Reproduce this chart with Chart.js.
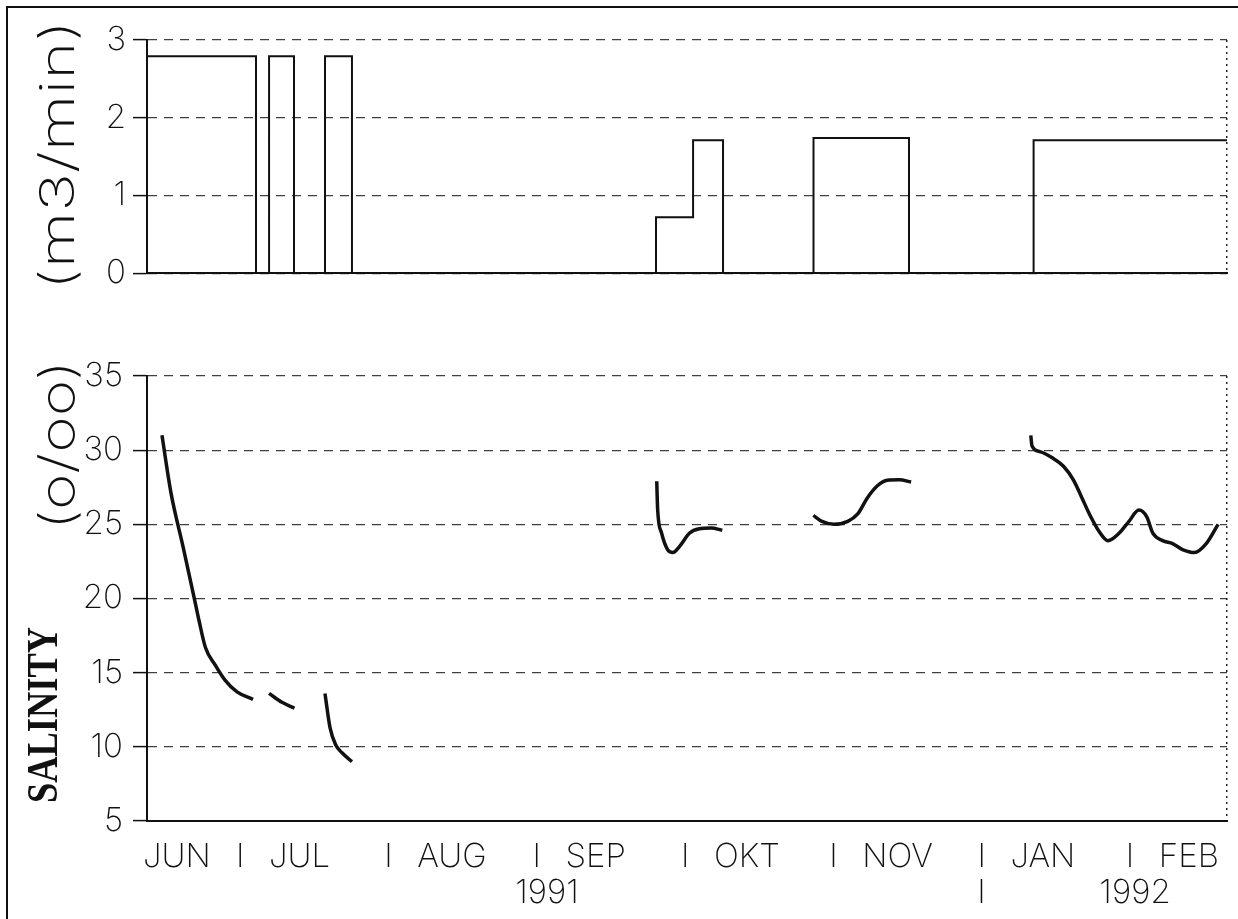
<!DOCTYPE html>
<html>
<head>
<meta charset="utf-8">
<script src="https://cdn.jsdelivr.net/npm/chart.js@4.4.1/dist/chart.umd.min.js"></script>
<style>
  html, body { margin: 0; padding: 0; background: #fff; }
  #page { position: relative; width: 1238px; height: 919px; overflow: hidden; }
  #frame { position: absolute; left: 6px; top: 6px; width: 1240px; height: 920px;
           border-left: 2px solid #111; border-top: 2px solid #111; }
  #topBox { position: absolute; left: 0; top: 0; width: 1238px; height: 300px; }
  #botBox { position: absolute; left: 0; top: 300px; width: 1238px; height: 619px; }
</style>
</head>
<body>
<div id="page">
  <div id="frame"></div>
  <div id="topBox"><canvas id="flowChart"></canvas></div>
  <div id="botBox"><canvas id="salChart"></canvas></div>
</div>
<script>
// x axis unit: months, JUL = 1 ... FEB = 7 (no DEC on the original axis)
const xMin = 0.373;
const xMax = 7.655;

const monthTicks = [0.373, 1, 2, 3, 4, 5, 6, 7];
const monthLabels = ['JUN', 'I  \u2009JUL', 'I  \u2009AUG', 'I  \u2009SEP', 'I  \u2009OKT', 'I  \u2009NOV', 'I  \u2009JAN', 'I  \u2009FEB'];
const yearTicks = [3.07, 6.0, 7.035];
const yearLabels = ['1991', 'I', '1992'];

// pumping rate (m3/min), step outline
const flowMonths = [0.373, 1.108, 1.196, 1.364, 1.573, 1.755, 3.805, 4.055, 4.257, 4.867, 5.511, 6.351, 7.655];
const flowValues = [2.79, 0, 2.79, 0, 2.79, 0, 0.72, 1.71, 0, 1.74, 0, 1.71, 1.71];

// salinity (o/oo), null separates the pieces of the record
const salMonths = [
  0.474, 0.535, 0.616, 0.690, 0.724, 0.767, 0.834, 0.899, 0.980, 1.088, 1.10,
  1.196, 1.283, 1.367, 1.40,
  1.573, 1.607, 1.647, 1.688, 1.755, 1.80,
  3.810, 3.816, 3.843, 3.883, 3.918, 3.963, 4.030, 4.097, 4.177, 4.252, 4.30,
  4.866, 4.924, 5.005, 5.098, 5.165, 5.231, 5.298, 5.365, 5.445, 5.525, 5.60,
  6.332, 6.340, 6.393, 6.474, 6.554, 6.620, 6.674, 6.727, 6.794, 6.852, 6.927,
  6.994, 7.061, 7.114, 7.155, 7.221, 7.288, 7.355, 7.435, 7.515, 7.595
];
const salValues = [
  31.0, 27.1, 23.5, 20.1, 18.5, 16.7, 15.5, 14.5, 13.7, 13.2, null,
  13.6, 13.0, 12.6, null,
  13.6, 11.3, 10.1, 9.6, 9.0, null,
  27.9, 26.0, 24.4, 23.3, 23.1, 23.5, 24.4, 24.7, 24.75, 24.6, null,
  25.6, 25.2, 25.0, 25.2, 25.7, 26.8, 27.6, 27.97, 28.0, 27.85, null,
  31.0, 30.3, 29.9, 29.5, 28.9, 27.98, 26.85, 25.7, 24.5, 23.9, 24.4,
  25.2, 25.96, 25.5, 24.4, 23.9, 23.7, 23.3, 23.1, 23.7, 25.0
];

const flowTicks = [0, 1, 2, 3];
const salTicks = [5, 10, 15, 20, 25, 30, 35];

const tickFont = { family: 'Inter, "DejaVu Sans", sans-serif', size: 33, weight: 200 };
const ink = '#111';
const gridCol = 'rgba(0,0,0,0.75)';
const areaLeft = 147;

function toPoints(xs, ys) {
  return xs.map((x, i) => ({ x: x, y: ys[i] }));
}

function stretchedTitle(ctx, text, cx, cy, font, len) {
  ctx.save();
  ctx.translate(cx, cy);
  ctx.rotate(-Math.PI / 2);
  ctx.font = font;
  const w = ctx.measureText(text).width;
  ctx.scale(len / w, 1);
  ctx.fillStyle = ink;
  ctx.textAlign = 'center';
  ctx.textBaseline = 'middle';
  ctx.fillText(text, 0, 0);
  ctx.restore();
}

function yAxis(min, max, ticksList, pad) {
  return {
    type: 'linear',
    position: 'left',
    min: min,
    max: max,
    afterBuildTicks: (scale) => { scale.ticks = ticksList.map(v => ({ value: v })); },
    afterFit: (scale) => { scale.width = areaLeft; },
    ticks: { color: ink, font: tickFont, padding: pad },
    grid: {
      color: gridCol, lineWidth: 1.2,
      drawTicks: true, tickLength: 14, tickColor: ink, tickWidth: 1.5, tickBorderDash: []
    },
    // in Chart.js v4 border.dash dashes the grid lines, the axis line stays solid
    border: { display: true, color: ink, width: 2, dash: [9, 7] }
  };
}

// dotted line at the right end of the plot, drawn as the grid line of xMax
function rightEdge() {
  return {
    type: 'linear',
    position: 'top',
    min: xMin,
    max: xMax,
    afterBuildTicks: (scale) => { scale.ticks = [{ value: xMax }]; },
    afterFit: (scale) => { scale.height = 0; scale.paddingLeft = 0; scale.paddingRight = 0; },
    ticks: { display: false },
    grid: { display: true, drawTicks: false, color: 'rgba(0,0,0,0.85)', lineWidth: 1.5 },
    border: { display: false, dash: [2, 4] }
  };
}

// ---------- top panel: pumping rate ----------
new Chart(document.getElementById('flowChart'), {
  type: 'line',
  data: {
    datasets: [{
      data: toPoints(flowMonths, flowValues),
      stepped: true,
      borderColor: ink,
      borderWidth: 2,
      pointRadius: 0,
      fill: false
    }]
  },
  options: {
    responsive: true,
    maintainAspectRatio: false,
    animation: false,
    layout: { padding: { top: 40, right: 11, bottom: 0, left: 0 } },
    plugins: { legend: { display: false }, tooltip: { enabled: false } },
    scales: {
      x: {
        type: 'linear', min: xMin, max: xMax,
        afterFit: (scale) => { scale.height = 20; },
        ticks: { display: false },
        grid: { display: false },
        border: { display: true, color: ink, width: 2 }
      },
      xr: rightEdge(),
      y: yAxis(0, 3, flowTicks, 7)
    }
  },
  plugins: [{
    id: 'flowTitle',
    afterDraw(chart) {
      stretchedTitle(chart.ctx, '(m3/min)', 60, 155, '200 48px Inter, "DejaVu Sans", sans-serif', 270);
    }
  }]
});

// ---------- bottom panel: salinity ----------
new Chart(document.getElementById('salChart'), {
  type: 'line',
  data: {
    datasets: [{
      data: toPoints(salMonths, salValues),
      borderColor: ink,
      borderWidth: 3.5,
      pointRadius: 0,
      cubicInterpolationMode: 'monotone',
      spanGaps: false,
      fill: false
    }]
  },
  options: {
    responsive: true,
    maintainAspectRatio: false,
    animation: false,
    layout: { padding: { top: 76, right: 11, bottom: 6, left: 0 } },
    plugins: { legend: { display: false }, tooltip: { enabled: false } },
    scales: {
      x: {
        type: 'linear', min: xMin, max: xMax, weight: 0,
        afterBuildTicks: (scale) => { scale.ticks = monthTicks.map(v => ({ value: v })); },
        afterFit: (scale) => { scale.height = 52; scale.paddingLeft = 0; scale.paddingRight = 0; },
        ticks: {
          color: ink, font: tickFont, padding: 16, align: 'start', labelOffset: -4,
          maxRotation: 0, minRotation: 0, autoSkip: false,
          callback: (v, i) => monthLabels[i]
        },
        grid: { display: false, drawTicks: false },
        border: { display: true, color: ink, width: 2 }
      },
      x2: {
        type: 'linear', position: 'bottom', min: xMin, max: xMax, weight: 1,
        afterBuildTicks: (scale) => { scale.ticks = yearTicks.map(v => ({ value: v })); },
        afterFit: (scale) => { scale.height = 40; scale.paddingLeft = 0; scale.paddingRight = 0; },
        ticks: {
          color: ink, font: tickFont, padding: 0,
          maxRotation: 0, minRotation: 0, autoSkip: false,
          callback: (v, i) => yearLabels[i]
        },
        grid: { display: false, drawTicks: false },
        border: { display: false }
      },
      xr: rightEdge(),
      y: yAxis(5, 35, salTicks, 10)
    }
  },
  plugins: [{
    id: 'salTitle',
    afterDraw(chart) {
      const ctx = chart.ctx;
      stretchedTitle(ctx, '(o/oo)', 60, 145, '200 48px Inter, "DejaVu Sans", sans-serif', 170);
      stretchedTitle(ctx, 'SALINITY', 45, 415, 'bold 45px "Liberation Serif", "Times New Roman", serif', 176);
    }
  }]
});
</script>
</body>
</html>
